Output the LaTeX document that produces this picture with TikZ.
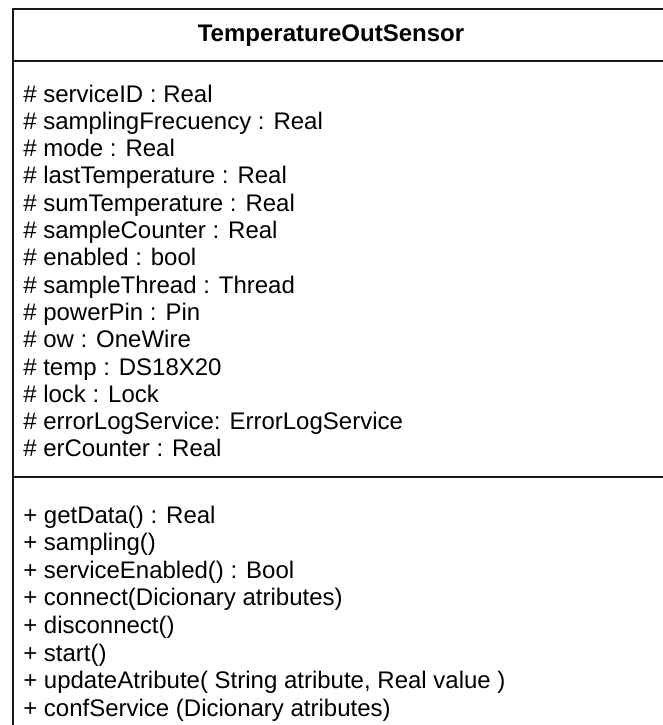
\documentclass[tikz,border=0pt]{standalone}
\usepackage{fontspec}
\setmainfont{Liberation Sans}

\tikzset{
  umlborder/.style={line width=1.4pt, black!90},
  classname/.style={font=\bfseries\fontsize{18}{21}\selectfont},
  member/.style={anchor=base west, inner sep=0pt, font=\fontsize{18}{21}\selectfont}
}

\begin{document}
\begin{tikzpicture}[x=0.75pt,y=-0.75pt]
\useasboundingbox (0,0) rectangle (662,725);

% class box (runs past the right and bottom edges)
\draw[umlborder] (670,9) -- (13,9) -- (13,735);
\draw[umlborder] (13,61) -- (670,61);
\draw[umlborder] (13,477) -- (670,477);

\node[classname] (title) at (331,36) {TemperatureOutSensor};

% attributes
\foreach \txt [count=\i] in {
    {\# serviceID : Real},
    {\# samplingFrecuency : Real},
    {\# mode : Real},
    {\# lastTemperature : Real},
    {\# sumTemperature : Real},
    {\# sampleCounter : Real},
    {\# enabled : bool},
    {\# sampleThread : Thread},
    {\# powerPin : Pin},
    {\# ow : OneWire},
    {\# temp : DS18X20},
    {\# lock : Lock},
    {\# errorLogService: ErrorLogService},
    {\# erCounter : Real}}
  \node[member] (attr\i) at (23,{102+27.3*(\i-1)}) {\txt};

% operations
\foreach \txt [count=\i] in {
    {+ getData() : Real},
    {+ sampling()},
    {+ serviceEnabled() : Bool},
    {+ connect(Dicionary atributes)},
    {+ disconnect()},
    {+ start()},
    {+ updateAtribute( String atribute, Real value )},
    {+ confService (Dicionary atributes)}}
  \node[member] (op\i) at (23,{523+27.6*(\i-1)}) {\txt};

\end{tikzpicture}
\end{document}
